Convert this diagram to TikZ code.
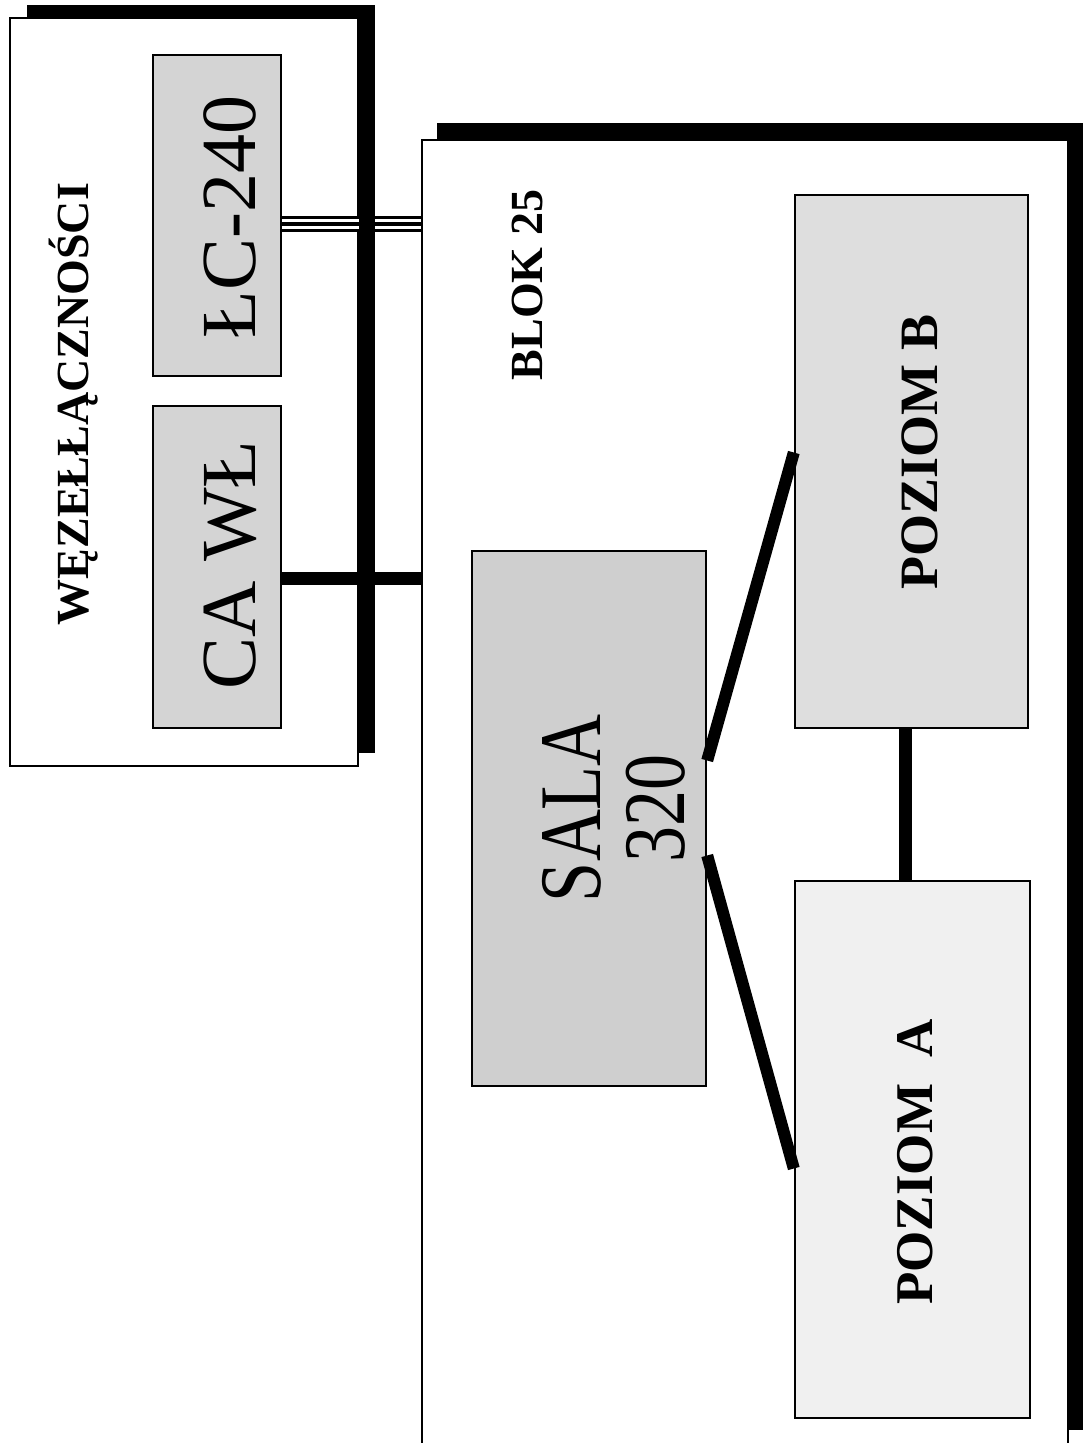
\documentclass[tikz,border=0pt]{standalone}
\usepackage{fontspec}
\usepackage{graphicx}
\setmainfont{Liberation Serif}
\definecolor{szaryC}{gray}{0.83}
\definecolor{szaryS}{gray}{0.81}
\definecolor{szaryB}{gray}{0.87}
\definecolor{szaryA}{gray}{0.94}
\newcommand\wysoki[1]{\scalebox{1}[1.22]{#1}}

\begin{document}
\begin{tikzpicture}[x=1pt, y=-1pt,
  cien/.style={rectangle, fill=black, inner sep=0pt},
  ramka/.style={rectangle, draw, line width=1.6pt, fill=white, inner sep=0pt},
  pole/.style={rectangle, draw, line width=2.4pt, inner sep=0pt},
  napis/.style={rotate=90, inner sep=0pt, font=\fontsize{46}{50}\selectfont\bfseries},
  duzy/.style={rotate=90, inner sep=0pt, font=\fontsize{78}{80}\selectfont},
  gruba/.style={line width=13pt},
  trojka/.style={draw=black, line width=16pt,
                 postaction={draw=white, line width=10pt},
                 postaction={draw=black, line width=4.4pt}}
]
\useasboundingbox (0,0) rectangle (1087,1443);
\clip (0,0) rectangle (1087,1443);

\node[cien,  minimum width=348pt, minimum height=748pt] (wezelcien) at (201,379) {};
\node[ramka, minimum width=348pt, minimum height=748pt] (wezel) at (184,392) {};
\node[napis] (wezeltxt) at (74,404) {WĘZEŁŁĄCZNOŚCI};

\node[pole, fill=szaryC, minimum width=128pt, minimum height=321pt] (lc) at (217,215.5) {};
\node[duzy] (lctxt) at (230,217) {ŁC-240};
\node[pole, fill=szaryC, minimum width=128pt, minimum height=322pt] (ca) at (217,567) {};
\node[duzy] (catxt) at (230,565) {CA WŁ};

\node[cien,  minimum width=646pt, minimum height=1307pt] (blokcien) at (760,776.5) {};
\node[ramka, minimum width=646pt, minimum height=1307pt] (blok) at (745,793.5) {};
\node[napis] (bloktxt) at (527,285) {BLOK 25};

\node[pole, fill=szaryB, minimum width=233pt, minimum height=533pt] (pozB) at (911.5,461.5) {};
\node[napis, font=\fontsize{54}{56}\selectfont\bfseries] (pozBtxt) at (920,452) {POZIOM B};

\node[pole, fill=szaryS, minimum width=234pt, minimum height=535pt] (sala) at (589,818.5) {};
\node[duzy, font=\fontsize{72}{68}\selectfont] (salatxt) at (626,808)
      {\wysoki{\begin{tabular}{@{}c@{}}SALA\\320\end{tabular}}};

\node[pole, fill=szaryA, minimum width=235pt, minimum height=537pt] (pozA) at (912.5,1149.5) {};
\node[napis, font=\fontsize{53}{56}\selectfont\bfseries] (pozAtxt) at (915,1162) {POZIOM~~A};

\draw[trojka] ([yshift=-8.5pt]lc.east) -- ([yshift=-8.5pt]lc.east -| wezel.east);
\draw[trojka] ([yshift=-8.5pt]lc.east -| wezelcien.east) -- ([yshift=-8.5pt]lc.east -| blok.west);
\draw[gruba] ([yshift=-11pt]ca.east) -- ([yshift=-11pt]ca.east -| blok.west);

\draw[gruba, line width=12pt] ([yshift=58pt]sala.east) -- ([yshift=9pt]pozB.west);
\draw[gruba, line width=12pt] ([yshift=-37pt]sala.east) -- ([yshift=-19pt]pozA.west);
\draw[gruba] ([xshift=-6pt]pozB.south) -- ([xshift=-6pt]pozB.south |- pozA.north);

\end{tikzpicture}
\end{document}
